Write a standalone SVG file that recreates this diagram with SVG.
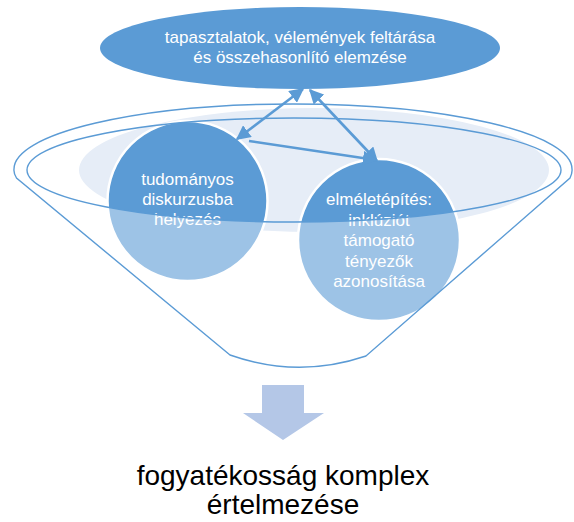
<svg xmlns="http://www.w3.org/2000/svg" width="574" height="522" viewBox="0 0 574 522">
<style>
.lbl{font-family:"Liberation Sans",Arial,sans-serif;font-size:17px;fill:#FFFFFF;text-anchor:middle}
.big{font-family:"Liberation Sans",Arial,sans-serif;font-size:28px;fill:#000000;text-anchor:middle}
.rim{fill:none;stroke:#5B9BD5;stroke-width:1.4}
.con{fill:none;stroke:#5B9BD5;stroke-width:2.6}
.dark{fill:#5B9BD5}
.light{fill:#9DC3E6}
</style>
<defs>
<clipPath id="inside">
<path d="M 27 170 A 267 52 0 0 0 561 170 L 561 0 L 27 0 Z"/>
</clipPath>
<marker id="ah" viewBox="0 0 10 10" refX="9" refY="5" markerWidth="5.6" markerHeight="5.6" orient="auto-start-reverse">
<path d="M0,0 L10,5 L0,10 z" fill="#5B9BD5"/>
</marker>
</defs>
<rect width="574" height="522" fill="#FFFFFF"/>
<g id="funnel-fill">
<ellipse cx="314" cy="170" rx="235" ry="62" fill="#E6EDF7"/>
</g>
<g id="node-left">
<circle cx="187.5" cy="201" r="80" class="light"/>
<circle cx="187.5" cy="201" r="80" class="dark" clip-path="url(#inside)"/>
<circle cx="187.5" cy="201" r="80" fill="none" stroke="#FFFFFF" stroke-width="2.5"/>
<text class="lbl" x="187.5" y="185">tudományos</text>
<text class="lbl" x="187.5" y="205">diskurzusba</text>
<text class="lbl" x="187.5" y="225">helyezés</text>
</g>
<g id="node-right">
<circle cx="379" cy="240" r="81" class="light"/>
<circle cx="379" cy="240" r="81" class="dark" clip-path="url(#inside)"/>
<circle cx="379" cy="240" r="81" fill="none" stroke="#FFFFFF" stroke-width="2.5"/>
<text class="lbl" x="379" y="205">elméletépítés:</text>
<text class="lbl" x="379" y="225.5">inklúziót</text>
<text class="lbl" x="379" y="246">támogató</text>
<text class="lbl" x="379" y="266.5">tényezők</text>
<text class="lbl" x="379" y="287">azonosítása</text>
</g>
<g id="funnel">
<path class="rim" d="M 230 355 L 16.5 178 Q 13.5 173 14 169 A 279 65 0 0 1 572 169 Q 572.5 173 570 178 L 366 356 Q 298 379 230 355 Z"/>
<ellipse class="rim" cx="294" cy="170" rx="267" ry="52"/>
</g>
<g id="node-top">
<ellipse cx="300" cy="48" rx="200" ry="41" class="dark"/>
<text class="lbl" x="300" y="43">tapasztalatok, vélemények feltárása</text>
<text class="lbl" x="300" y="63">és összehasonlító elemzése</text>
</g>
<g id="connectors">
<path class="con" d="M 303 89 L 237 139" marker-start="url(#ah)" marker-end="url(#ah)"/>
<path class="con" d="M 310 90 L 377 161" marker-start="url(#ah)" marker-end="url(#ah)"/>
<path class="con" d="M 249 141 L 376 160" marker-end="url(#ah)"/>
</g>
<g id="arrow-down">
<polygon points="262,385 304,385 304,413 324,413 283,440 243,413 262,413" fill="#B4C7E7"/>
</g>
<g id="result">
<text class="big" x="283" y="485">fogyatékosság komplex</text>
<text class="big" x="283" y="514">értelmezése</text>
</g>
</svg>
